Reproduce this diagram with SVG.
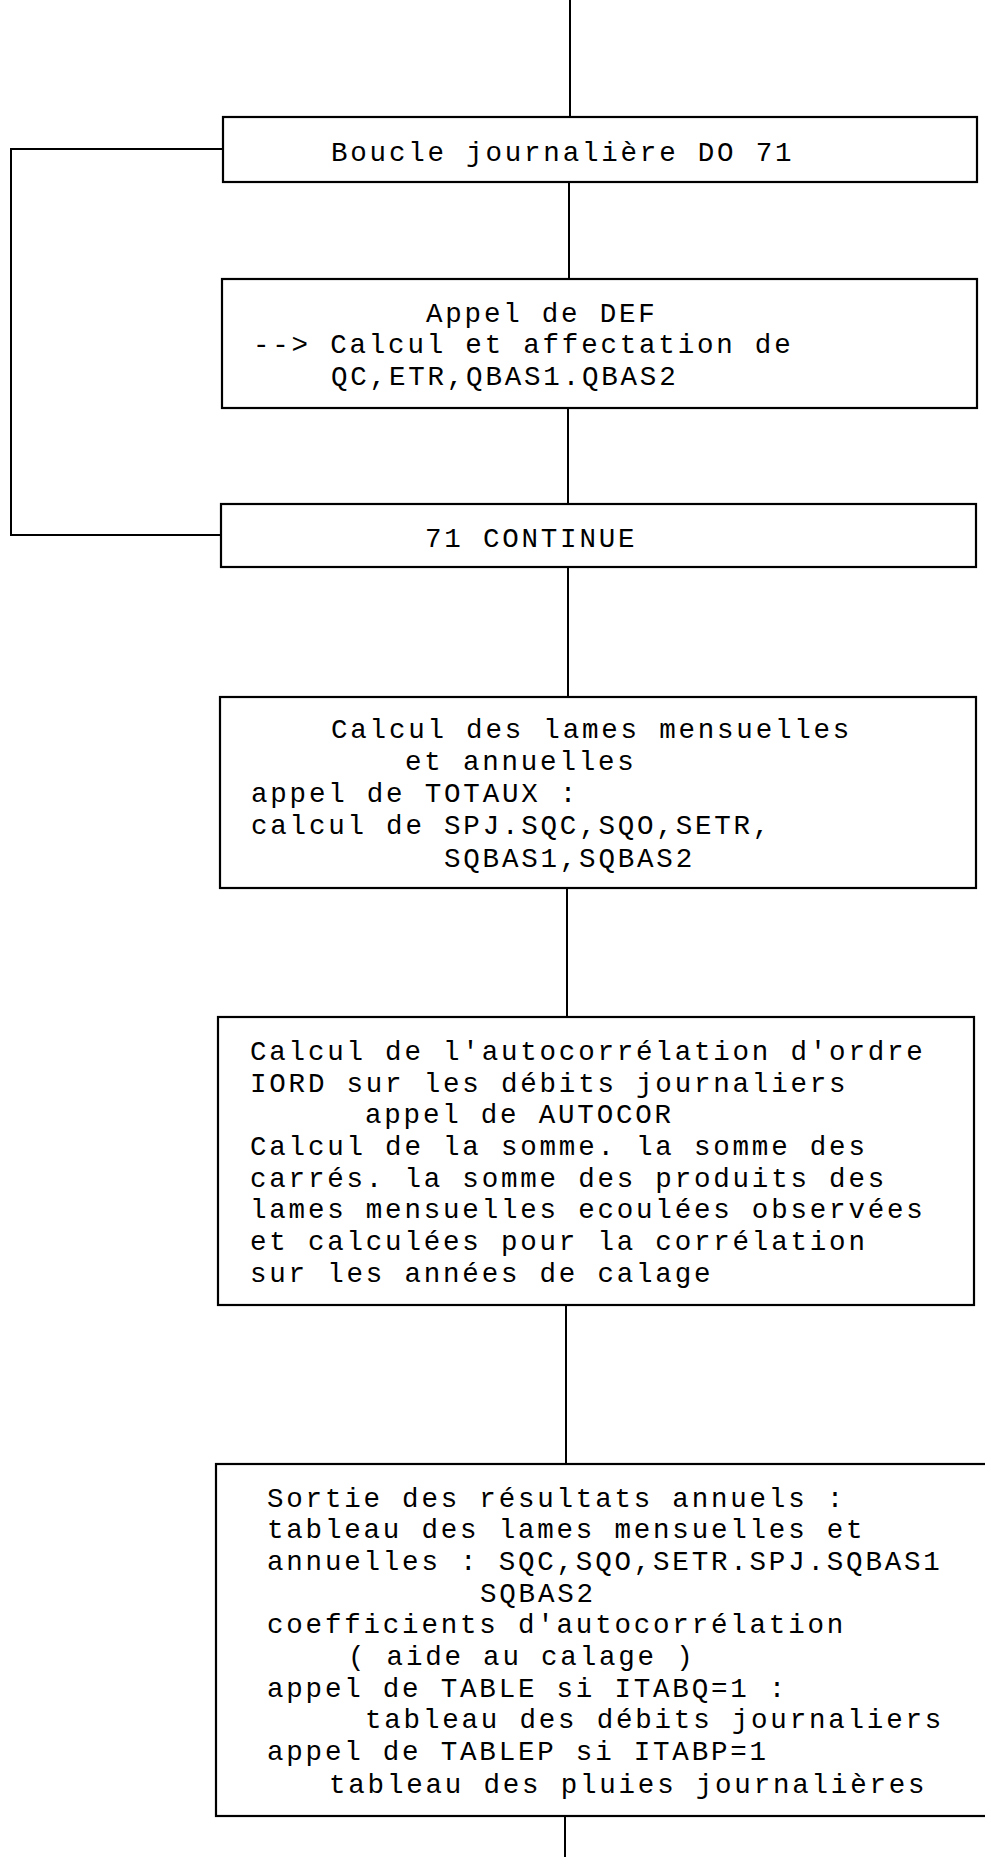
<svg xmlns="http://www.w3.org/2000/svg" width="985" height="1857" viewBox="0 0 985 1857">
<style>
.box{fill:none;stroke:#000;stroke-width:2.2}
.ln{fill:none;stroke:#000;stroke-width:2}
text{font-family:"Liberation Mono","DejaVu Sans Mono",monospace;font-size:27.5px;letter-spacing:2.8px;fill:#000}
</style>
<rect width="985" height="1857" fill="#fff"/>
<g id="connectors">
<path class="ln" d="M570,0V117"/>
<path class="ln" d="M569,182V279"/>
<path class="ln" d="M568,408V504"/>
<path class="ln" d="M568,567V697"/>
<path class="ln" d="M567,888V1017"/>
<path class="ln" d="M566,1305V1464"/>
<path class="ln" d="M565,1816V1857"/>
<path class="ln" d="M223,149H11V535H221"/>
</g>
<g id="n1">
<rect class="box" x="223" y="117" width="754" height="65"/>
<text x="331" y="161">Boucle journalière DO 71</text>
</g>
<g id="n2">
<rect class="box" x="222" y="279" width="755" height="129"/>
<text x="426" y="322">Appel de DEF</text>
<text x="253" y="353">--&gt; Calcul et affectation de</text>
<text x="331" y="385">QC,ETR,QBAS1.QBAS2</text>
</g>
<g id="n3">
<rect class="box" x="221" y="504" width="755" height="63"/>
<text x="425" y="547">71 CONTINUE</text>
</g>
<g id="n4">
<rect class="box" x="220" y="697" width="756" height="191"/>
<text x="331" y="738">Calcul des lames mensuelles</text>
<text x="405" y="770">et annuelles</text>
<text x="251" y="802">appel de TOTAUX :</text>
<text x="251" y="834">calcul de SPJ.SQC,SQO,SETR,</text>
<text x="444" y="867">SQBAS1,SQBAS2</text>
</g>
<g id="n5">
<rect class="box" x="218" y="1017" width="756" height="288"/>
<text x="250" y="1060">Calcul de l'autocorrélation d'ordre</text>
<text x="250" y="1092">IORD sur les débits journaliers</text>
<text x="365" y="1123">appel de AUTOCOR</text>
<text x="250" y="1155">Calcul de la somme. la somme des</text>
<text x="250" y="1187">carrés. la somme des produits des</text>
<text x="250" y="1218">lames mensuelles ecoulées observées</text>
<text x="250" y="1250">et calculées pour la corrélation</text>
<text x="250" y="1282">sur les années de calage</text>
</g>
<g id="n6">
<rect class="box" x="216" y="1464" width="780" height="352"/>
<text x="267" y="1507">Sortie des résultats annuels :</text>
<text x="267" y="1538">tableau des lames mensuelles et</text>
<text x="267" y="1570">annuelles : SQC,SQO,SETR.SPJ.SQBAS1</text>
<text x="480" y="1602">SQBAS2</text>
<text x="267" y="1633">coefficients d'autocorrélation</text>
<text x="348" y="1665">( aide au calage )</text>
<text x="267" y="1697">appel de TABLE si ITABQ=1 :</text>
<text x="365" y="1728">tableau des débits journaliers</text>
<text x="267" y="1760">appel de TABLEP si ITABP=1</text>
<text x="329" y="1793">tableau des pluies journalières</text>
</g>
</svg>
